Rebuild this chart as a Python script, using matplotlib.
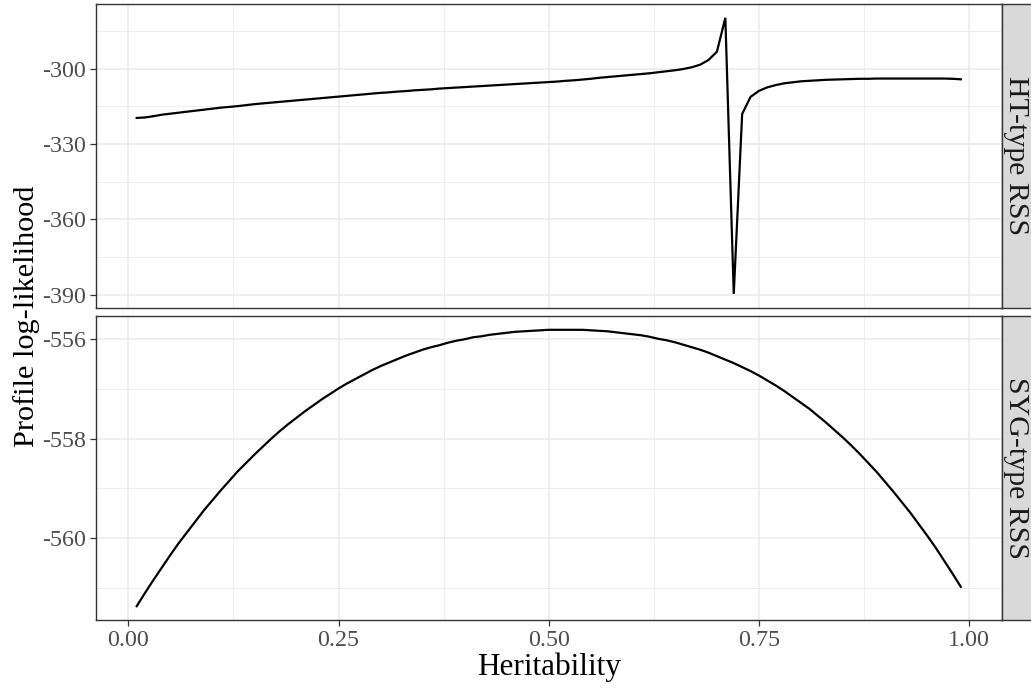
import numpy as np
import matplotlib
matplotlib.use("Agg")
import matplotlib.pyplot as plt
from matplotlib.ticker import FixedLocator

plt.rcParams['font.family'] = ['Liberation Serif', 'DejaVu Serif']

# heritability grid used for the profile likelihood
heritability = np.round(np.arange(1, 100) / 100, 2)

# profile log-likelihood, HT-type RSS
loglik_ht = [
    -319.6, -319.4, -318.9, -318.3, -317.9, -317.5, -317.1, -316.7, -316.3, -315.9,
    -315.5, -315.2, -314.9, -314.5, -314.1, -313.8, -313.5, -313.2, -312.9, -312.6,
    -312.3, -312.0, -311.7, -311.4, -311.1, -310.8, -310.5, -310.2, -309.9, -309.6,
    -309.4, -309.1, -308.9, -308.6, -308.4, -308.2, -307.9, -307.7, -307.5, -307.3,
    -307.1, -306.9, -306.7, -306.5, -306.3, -306.1, -305.9, -305.7, -305.5, -305.3,
    -305.1, -304.8, -304.6, -304.3, -304.0, -303.6, -303.3, -303.0, -302.7, -302.4,
    -302.1, -301.8, -301.4, -301.0, -300.6, -300.1, -299.4, -298.4, -296.5, -293.2,
    -279.7, -389.7, -318.0, -311.2, -308.8, -307.4, -306.5, -305.8, -305.4, -305.0,
    -304.8, -304.6, -304.4, -304.3, -304.2, -304.1, -304.0, -304.0, -303.9, -303.9,
    -303.9, -303.9, -303.9, -303.9, -303.9, -303.9, -303.9, -304.0, -304.2,
]

# profile log-likelihood, SYG-type RSS
loglik_syg = [
    -561.37, -561.10, -560.84, -560.59, -560.34, -560.10, -559.88, -559.66, -559.44, -559.24,
    -559.04, -558.85, -558.66, -558.49, -558.32, -558.16, -558.00, -557.85, -557.71, -557.58,
    -557.45, -557.33, -557.21, -557.10, -556.99, -556.89, -556.80, -556.71, -556.62, -556.54,
    -556.47, -556.40, -556.33, -556.27, -556.21, -556.16, -556.12, -556.07, -556.03, -556.00,
    -555.96, -555.94, -555.91, -555.89, -555.87, -555.85, -555.84, -555.83, -555.82, -555.81,
    -555.81, -555.81, -555.81, -555.81, -555.82, -555.83, -555.84, -555.86, -555.88, -555.90,
    -555.92, -555.95, -555.99, -556.02, -556.06, -556.11, -556.16, -556.21, -556.27, -556.34,
    -556.41, -556.48, -556.56, -556.64, -556.73, -556.83, -556.93, -557.04, -557.16, -557.28,
    -557.40, -557.54, -557.68, -557.83, -557.98, -558.14, -558.31, -558.49, -558.67, -558.87,
    -559.07, -559.28, -559.49, -559.72, -559.95, -560.19, -560.45, -560.71, -560.98,
]

panel_labels = ["HT-type RSS", "SYG-type RSS"]
x_ticks = [0.00, 0.25, 0.50, 0.75, 1.00]
x_minor = [0.125, 0.375, 0.625, 0.875]
y_ticks = [[-300, -330, -360, -390], [-556, -558, -560]]
y_minor = [[-285, -315, -345, -375], [-557, -559, -561]]

W, H = 1031, 688
fig = plt.figure(figsize=(W / 100, H / 100), dpi=100)

left, right = 95.5, 1002
panels = [(4, 307.7), (316, 620)]
series = [loglik_ht, loglik_syg]

def expand(vals, mult=0.05):
    lo, hi = min(vals), max(vals)
    pad = (hi - lo) * mult
    return lo - pad, hi + pad

axes = []
for i, (top, bottom) in enumerate(panels):
    ax = fig.add_axes([left / W, 1 - bottom / H, (right - left) / W, (bottom - top) / H])
    ax.plot(heritability, series[i], color="black", lw=1.6, solid_joinstyle="miter", zorder=3)
    ax.set_xlim(*expand(heritability))
    ax.set_ylim(*expand(series[i]))

    ax.xaxis.set_major_locator(FixedLocator(x_ticks))
    ax.xaxis.set_minor_locator(FixedLocator(x_minor))
    ax.yaxis.set_major_locator(FixedLocator(y_ticks[i]))
    ax.yaxis.set_minor_locator(FixedLocator(y_minor[i]))
    ax.grid(which="major", color="#EBEBEB", lw=1.1, zorder=0)
    ax.grid(which="minor", color="#EBEBEB", lw=0.55, zorder=0)
    ax.set_axisbelow(True)

    for s in ax.spines.values():
        s.set_color("#333333")
        s.set_linewidth(1.0)

    ax.tick_params(which="minor", length=0)
    ax.tick_params(which="major", length=4, width=0.9, color="#333333",
                   labelcolor="#4D4D4D", labelsize=17.3, pad=3)
    ax.set_yticklabels([f"{v:d}" for v in y_ticks[i]])
    if i == 0:
        ax.tick_params(axis="x", which="both", bottom=False, labelbottom=False)
    else:
        ax.set_xticklabels([f"{v:.2f}" for v in x_ticks])

    # facet strip on the right (runs past the figure edge)
    sx = fig.add_axes([right / W, 1 - bottom / H, 45 / W, (bottom - top) / H])
    sx.set_facecolor("#D9D9D9")
    sx.set_xticks([])
    sx.set_yticks([])
    for s in sx.spines.values():
        s.set_color("#333333")
        s.set_linewidth(1.0)
    fig.text(1016 / W, 1 - (top + bottom) / 2 / H, panel_labels[i], rotation=-90,
             ha="center", va="center", fontsize=21.5, color="#1A1A1A")
    axes.append(ax)

axes[1].set_xlabel("Heritability", fontsize=22.5, labelpad=1)
fig.text(27 / W, 1 - 316 / H, "Profile log-likelihood", rotation=90,
         ha="center", va="center", fontsize=21.8)

fig.savefig("out.png", dpi=100)
